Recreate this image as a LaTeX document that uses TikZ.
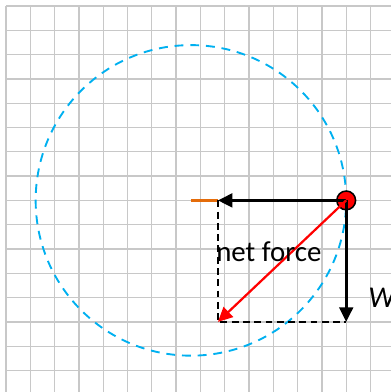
\documentclass[tikz,border=0pt]{standalone}
\usepackage{fontspec}
\setmainfont{Carlito}
\usetikzlibrary{arrows.meta, positioning}
\definecolor{sky}{HTML}{00B0F0}
\definecolor{rope}{HTML}{E46C0A}
\definecolor{gridgray}{HTML}{C8C8C8}

\begin{document}
\begin{tikzpicture}[
    x=0.5cm, y=0.5cm,
    gridline/.style={draw=gridgray, line width=0.8pt},
    orbit/.style={draw=sky, line width=1.1pt, dash pattern=on 5.2pt off 4pt},
    guide/.style={draw=black, line width=1.1pt, dash pattern=on 4pt off 2.6pt},
    arr/.style={-{Triangle[length=8.5pt, width=8pt]}, line width=1.7pt},
    mass/.style={circle, draw=black, fill=red, line width=0.9pt,
                 minimum size=11pt, inner sep=0pt},
    lbl/.style={font=\fontsize{16.9}{20}\selectfont, inner sep=0pt},
  ]
    \useasboundingbox (-0.247,-0.885) rectangle (15.84,15.247);
    % squared paper
    \foreach \i in {0,...,15} {
      \draw[gridline] (\i,-0.885) -- (\i,15);
      \draw[gridline] (0,\i) -- (15.84,\i);
    }

    \coordinate (c) at (7.61,7);
    \coordinate (h) at (8.72,7);
    \coordinate (d) at (8.72,2);
    \coordinate (w) at (14,2);

    \draw[orbit] (c) circle[radius=6.39];
    \draw[rope, line width=1.8pt] (c) -- (h);
    \draw[guide] (h) -- (d) -- (w);

    \node[mass] (m) at (14,7) {};

    % forces on the mass
    \draw[arr] (m.center) -- (h);
    \draw[arr] (m.center) -- (w);
    \draw[arr, red, line width=1.3pt] (m.center) -- (d);

    \node[lbl, anchor=base west] (net) at (8.64,4.48) {net force};
    \node[lbl, anchor=base west, font=\fontsize{17.7}{20}\selectfont\itshape]
      (wt) at (14.9,2.61) {W};
  \end{tikzpicture}
\end{document}
